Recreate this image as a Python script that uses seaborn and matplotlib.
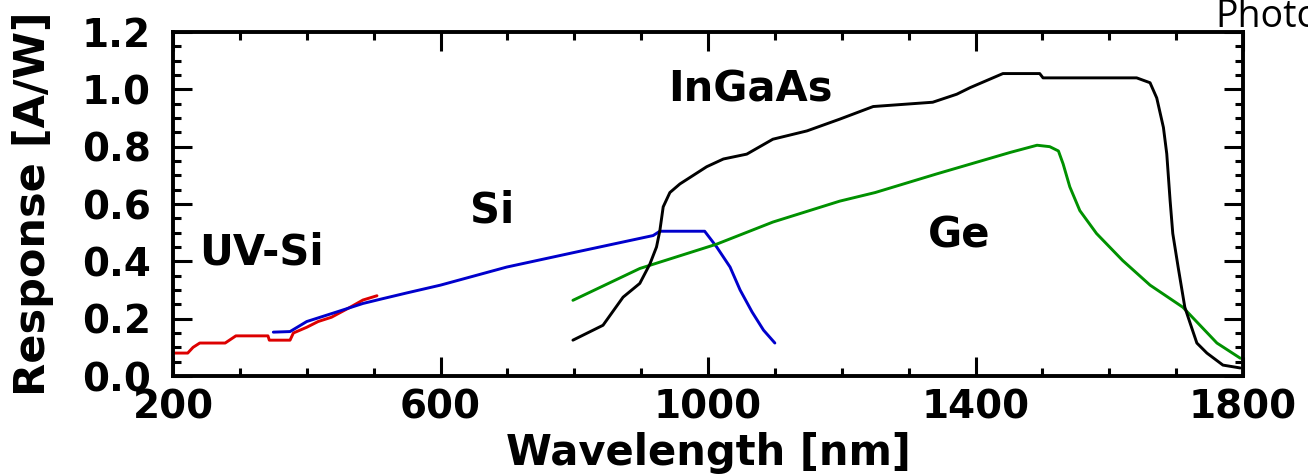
import numpy as np
import pandas as pd
import matplotlib
matplotlib.use("Agg")
import matplotlib.pyplot as plt
from matplotlib.ticker import MultipleLocator
import seaborn as sns

# ---- data ----
uvsi_x = [203, 222, 230, 240, 278, 294, 342, 344, 375, 380, 400, 417, 437, 465, 484, 505]
uvsi_y = [0.08, 0.08, 0.10, 0.115, 0.115, 0.14, 0.14, 0.125, 0.125, 0.15, 0.17, 0.19, 0.205, 0.24, 0.265, 0.28]

si_x = [350, 375, 400, 447, 484, 514, 550, 600, 699, 798, 918, 928, 995, 1013, 1033, 1048, 1066, 1083, 1100]
si_y = [0.153, 0.155, 0.19, 0.225, 0.253, 0.27, 0.29, 0.317, 0.38, 0.43, 0.49, 0.505, 0.505, 0.45, 0.38, 0.30, 0.223, 0.16, 0.115]

ge_x = [798, 898, 1013, 1097, 1197, 1250, 1342, 1452, 1492, 1511, 1524, 1531, 1541, 1556, 1581, 1620, 1661, 1710, 1761, 1796]
ge_y = [0.264, 0.375, 0.46, 0.537, 0.61, 0.64, 0.705, 0.78, 0.805, 0.80, 0.785, 0.74, 0.66, 0.577, 0.497, 0.403, 0.317, 0.24, 0.115, 0.062]

ingaas_x = [798, 843, 873, 898, 913, 923, 928, 933, 943, 958, 998, 1023, 1058, 1097, 1148, 1197, 1247, 1336,
            1372, 1392, 1441, 1496, 1501, 1591, 1641, 1661, 1671, 1681, 1686, 1691, 1695, 1703, 1713, 1721,
            1731, 1746, 1770, 1796]
ingaas_y = [0.125, 0.177, 0.275, 0.323, 0.39, 0.45, 0.507, 0.59, 0.64, 0.67, 0.73, 0.757, 0.774, 0.826, 0.855,
            0.896, 0.94, 0.955, 0.983, 1.006, 1.055, 1.055, 1.04, 1.04, 1.04, 1.023, 0.97, 0.867, 0.775, 0.612,
            0.497, 0.38, 0.24, 0.184, 0.115, 0.08, 0.038, 0.028]

x_ticks = [200, 600, 1000, 1400, 1800]
y_ticks = [0.0, 0.2, 0.4, 0.6, 0.8, 1.0, 1.2]
y_tick_labels = ["0.0", "0.2", "0.4", "0.6", "0.8", "1.0", "1.2"]

labels = ["UV-Si", "Si", "InGaAs", "Ge"]
label_x = [239, 644, 940, 1329]
label_y = [0.43, 0.577, 1.0, 0.49]

# ---- plotting ----
sns.set_style("ticks")
plt.rcParams['font.family'] = ['DejaVu Sans']
plt.rcParams['text.color'] = 'black'
plt.rcParams['axes.labelcolor'] = 'black'
plt.rcParams['xtick.color'] = 'black'
plt.rcParams['ytick.color'] = 'black'
plt.rcParams['axes.edgecolor'] = 'black'

fig = plt.figure(figsize=(13.08, 4.76), dpi=100)
ax = fig.add_axes([173/1308, 1 - 376/476, (1243 - 173)/1308, (376 - 32)/476])

series = [
    (uvsi_x, uvsi_y, "#dd0000"),
    (si_x, si_y, "#0000cc"),
    (ge_x, ge_y, "#009100"),
    (ingaas_x, ingaas_y, "#000000"),
]
for xs, ys, c in series:
    df = pd.DataFrame({"x": xs, "y": ys})
    sns.lineplot(data=df, x="x", y="y", color=c, lw=2.1, ax=ax, sort=False, estimator=None)

ax.set_xlim(200, 1800)
ax.set_ylim(0, 1.2)
ax.set_xticks(x_ticks)
ax.set_xticklabels([str(v) for v in x_ticks])
ax.set_yticks(y_ticks)
ax.set_yticklabels(y_tick_labels)
ax.xaxis.set_minor_locator(MultipleLocator(100))
ax.yaxis.set_minor_locator(MultipleLocator(0.05))

ax.tick_params(axis='both', which='both', direction='in', top=True, right=True, width=2.2,
               color='black', labelcolor='black')
ax.tick_params(axis='both', which='major', length=14)
ax.tick_params(axis='both', which='minor', length=6)
ax.tick_params(axis='y', which='major', pad=16, labelsize=28)
ax.tick_params(axis='x', which='major', pad=9, labelsize=28)
for lab in ax.get_xticklabels() + ax.get_yticklabels():
    lab.set_fontweight('bold')
    lab.set_color('black')

for sp in ax.spines.values():
    sp.set_linewidth(2.8)
    sp.set_color('black')

ax.set_xlabel("Wavelength [nm]", fontsize=30, fontweight='bold', labelpad=4, color='black')
ax.set_ylabel("Response [A/W]", fontsize=31, fontweight='bold', labelpad=20, color='black')

for t, lx, ly in zip(labels, label_x, label_y):
    ax.text(lx, ly, t, fontsize=30, fontweight='bold', ha='left', va='center', color='black')

fig.text(1215/1308, 1 - 27/476, "Photodetectors", fontsize=27, family=['Open Sans', 'DejaVu Sans'],
         ha='left', va='baseline', color='black')

fig.savefig("out.png", dpi=100)
